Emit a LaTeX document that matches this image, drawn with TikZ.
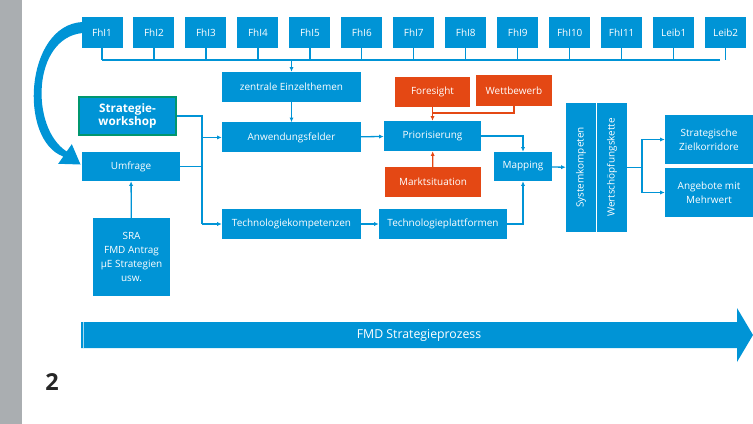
\documentclass[tikz,border=0pt]{standalone}
\usepackage{fontspec}
\setmainfont{Open Sans}
\usepackage{tikz}
\usepackage{xcolor}
\usetikzlibrary{arrows.meta,positioning}

\definecolor{fmdblue}{RGB}{0,148,214}
\definecolor{fmdorange}{RGB}{228,72,20}
\definecolor{fmdgreen}{RGB}{0,150,110}
\definecolor{bargray}{RGB}{170,174,177}

\begin{document}
\begin{tikzpicture}[
  x=0.03cm, y=-0.03cm,
  size/.style 2 args={minimum width=#1*0.03cm, minimum height=#2*0.03cm},
  box/.style={fill=fmdblue, text=white, inner sep=1pt, align=center, font=\fontsize{8.5}{12}\selectfont},
  inst/.style={box, size={41}{31}},
  wide/.style={box, size={139}{30}},
  ext/.style={box, fill=fmdorange},
  link/.style={draw=fmdblue, line width=1.1pt},
  arrow/.style={link, -{Latex[length=4pt,width=3.6pt]}},
  oarrow/.style={draw=fmdorange, line width=1.1pt, -{Latex[length=4pt,width=3.6pt]}}
]
\useasboundingbox (0,0) rectangle (753,424);
\fill[bargray] (0,0) rectangle (22,424);

% institutes
\node[inst] (fhi1) at (102,32.5) {FhI1};
\node[inst, right=3.15mm of fhi1] (fhi2) {FhI2};
\node[inst, right=3.15mm of fhi2] (fhi3) {FhI3};
\node[inst, right=3.15mm of fhi3] (fhi4) {FhI4};
\node[inst, right=3.15mm of fhi4] (fhi5) {FhI5};
\node[inst, right=3.15mm of fhi5] (fhi6) {FhI6};
\node[inst, right=3.15mm of fhi6] (fhi7) {FhI7};
\node[inst, right=3.15mm of fhi7] (fhi8) {FhI8};
\node[inst, right=3.15mm of fhi8] (fhi9) {FhI9};
\node[inst, right=3.15mm of fhi9] (fhi10) {FhI10};
\node[inst, right=3.15mm of fhi10] (fhi11) {FhI11};
\node[inst, right=3.15mm of fhi11] (leib1) {Leib1};
\node[inst, right=3.15mm of leib1] (leib2) {Leib2};
\coordinate (busL) at (102,60);
\coordinate (busR) at (720,60);

% middle part
\node[wide] (zentral) at (291.5,87) {zentrale Einzelthemen};
\node[wide, below=6mm of zentral] (anwend) {Anwendungsfelder};
\node[wide] (techkomp) at (291.5,224) {Technologiekompetenzen};
\node[box, size={97}{38}, draw=fmdgreen, line width=1.1pt, font=\bfseries\fontsize{10}{11.5}\selectfont] (workshop) at (127.5,116) {Strategie-\\workshop};
\node[box, size={98}{29}] (umfrage) at (131,166.5) {Umfrage};
\node[box, size={77}{78}] (sra) at (131.5,257) {SRA\\FMD Antrag\\µE Strategien\\usw.};
\coordinate (split) at (202,116);

\node[box, size={97}{30}] (prior) at (432.5,136) {Priorisierung};
\node[ext, size={75}{30}] (foresight) at (432.5,92) {Foresight};
\node[ext, size={76}{31}] (wettbewerb) at (514,90.5) {Wettbewerb};
\node[ext, size={96}{30}] (markt) at (433,182) {Marktsituation};
\node[box, size={128}{30}] (techplat) at (443,224) {Technologieplattformen};
\node[box, size={58}{29}] (mapping) at (523,166.5) {Mapping};
\node[box, size={30}{129}] (syskomp) at (581,167.5) {\rotatebox{90}{Systemkompeten}};
\node[box, size={30}{129}] (wert) at (612,167.5) {\rotatebox{90}{Wertschöpfungskette}};
\coordinate (fork) at (642,167.5);
\node[box, size={88}{49}] (ziel) at (709,139.5) {Strategische\\Zielkorridore};
\node[box, size={88}{49}] (angebote) at (709,192.5) {Angebote mit\\Mehrwert};

% process arrow
\fill[fmdblue] (81,322) -- (737,322) -- (737,308) -- (753,335) -- (737,362) -- (737,348) -- (81,348) -- cycle;
\draw[white!65!fmdblue, line width=0.6pt] (83.5,322) -- (83.5,348);
\node[text=white, font=\fontsize{10.5}{12}\selectfont] (prozess) at (419,335) {FMD Strategieprozess};
\node[text=black!85, font=\bfseries\fontsize{20}{20}\selectfont] (seite) at (52,382.5) {2};

% feedback arrow
\fill[fmdblue] (82.5,22) .. controls (25,25) and (18,140) .. (63.3,156.5) -- (58.2,163.8) -- (80.5,164.5) -- (71.8,144.2) -- (66.7,151.5) .. controls (30,128) and (32,38) .. (82.5,33) -- cycle;

% bus
\draw[link] (busL) -- (busR);
\draw[link] (fhi1.south) -- (fhi1.south |- busL);
\draw[link] (fhi2.south) -- (fhi2.south |- busL);
\draw[link] (fhi3.south) -- (fhi3.south |- busL);
\draw[link] (fhi4.south) -- (fhi4.south |- busL);
\draw[link] (fhi5.south) -- (fhi5.south |- busL);
\draw[link] (fhi6.south) -- (fhi6.south |- busL);
\draw[link] (fhi7.south) -- (fhi7.south |- busL);
\draw[link] (fhi8.south) -- (fhi8.south |- busL);
\draw[link] (fhi9.south) -- (fhi9.south |- busL);
\draw[link] (fhi10.south) -- (fhi10.south |- busL);
\draw[link] (fhi11.south) -- (fhi11.south |- busL);
\draw[link] (leib1.south) -- (leib1.south |- busL);
\draw[link] (leib2.south) -- (leib2.south |- busL);
\draw[arrow] (zentral.north |- busL) -- (zentral.north);
\draw[arrow] (zentral) -- (anwend);

% left inputs
\draw[link] (workshop.east) -- (split) -- (split |- techkomp.west);
\draw[link] (umfrage.east) -- (umfrage.east -| split);
\draw[arrow] (split |- anwend.west) -- (anwend.west);
\draw[arrow] (split |- techkomp.west) -- (techkomp.west);
\draw[arrow] (sra) -- (umfrage);

% right part
\draw[arrow] (anwend) -- (prior);
\draw[arrow] (techkomp) -- (techplat);
\draw[oarrow] (foresight) -- (prior);
\draw[draw=fmdorange, line width=1.1pt] (wettbewerb.south) |- (prior.north |- 0,113);
\draw[oarrow] (markt) -- (prior);
\draw[arrow] (prior.east) -| (mapping.north);
\draw[arrow] (techplat.east) -| (mapping.south);
\draw[arrow] (mapping) -- (syskomp);
\draw[link] (wert.east) -- (fork);
\draw[arrow] (fork) |- (ziel.west);
\draw[arrow] (fork) |- (angebote.west);
\end{tikzpicture}
\end{document}
